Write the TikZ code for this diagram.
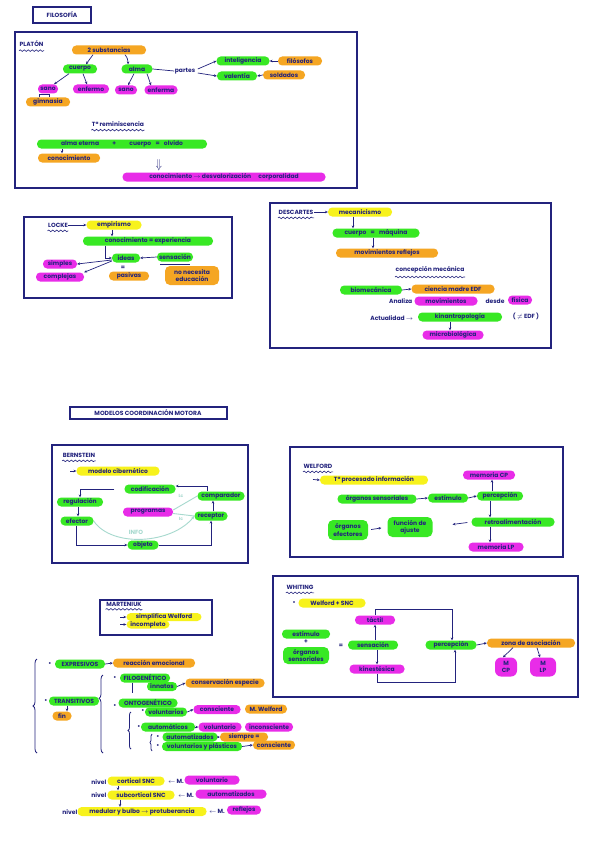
\documentclass[tikz,border=0pt]{standalone}
\usepackage{fontspec}
\setmainfont{Poppins}
\newfontfamily\handfam{Poppins}
\newcommand{\hf}{\handfam\bfseries\fontsize{6}{7.2}\selectfont}
\newcommand{\hft}{\handfam\bfseries\fontsize{6}{7.2}\selectfont}
\usetikzlibrary{arrows.meta,decorations.pathmorphing,decorations.pathreplacing}
\definecolor{ink}{HTML}{23237D}
\definecolor{pgreen}{HTML}{38E824}
\definecolor{porange}{HTML}{F5A623}
\definecolor{ppink}{HTML}{E82CE8}
\definecolor{pyellow}{HTML}{F7F21C}
\definecolor{tealc}{HTML}{A6D9CE}
\tikzset{
 txt/.style={text=ink, font=\hft, inner sep=0.5pt},
 pill/.style={rounded corners=4.2pt, minimum height=9pt, inner sep=0.8pt, text=ink, font=\hf, align=center},
 gp/.style={pill, fill=pgreen},
 op/.style={pill, fill=porange},
 pp/.style={pill, fill=ppink},
 yp/.style={pill, fill=pyellow},
 frame/.style={draw=ink, line width=1.3pt},
 arr/.style={draw=ink, line width=0.7pt, -{Stealth[length=2.8pt,width=2.6pt]}},
 ln/.style={draw=ink, line width=0.7pt},
 wav/.style={draw=ink, line width=0.6pt, decorate, decoration={snake, amplitude=0.8pt, segment length=4pt}},
 tl/.style={draw=tealc, line width=0.9pt},
 brc/.style={draw=ink, line width=0.8pt, decorate},
}
\begin{document}
\begin{tikzpicture}[x=1pt,y=-1pt]
\useasboundingbox[fill=white] (0,0) rectangle (600,848);

% ---------- FILOSOFIA ----------
\draw[frame] (33,7) rectangle (91,23);
\node[txt] (filos) at (62,15) {FILOSOFÍA};

% ---------- PLATON ----------
\draw[frame] (15,32) rectangle (357,188);
\node[txt, anchor=west] (platon) at (19,44) {PLATÓN};
\draw[wav] ([yshift=-3pt]platon.south west) -- ([yshift=-3pt]platon.south east);
\node[op, minimum width=74pt] (subs) at (109,50) {2 substancias};
\node[gp, minimum width=34pt] (cuerpo) at (80,69) {cuerpo};
\node[gp, minimum width=31pt] (alma) at (137,69) {alma};
\node[txt] (partes) at (185,71) {partes};
\node[gp, minimum width=53pt] (intel) at (243,61) {inteligencia};
\node[op, minimum width=44pt] (filo) at (300,61) {filósofos};
\node[gp, minimum width=40pt] (valen) at (237,76) {valentía};
\node[op, minimum width=42pt] (sold) at (284,75) {soldados};
\node[pp, minimum width=20pt] (sanoA) at (48,89) {sano};
\node[pp, minimum width=36pt] (enfA) at (91,89) {enfermo};
\node[pp, minimum width=22pt] (sanoB) at (126,90) {sano};
\node[pp, minimum width=33pt] (enfB) at (161,90) {enferma};
\node[op, minimum width=44pt] (gim) at (48,102) {gimnasia};
\draw[arr] ([xshift=-16pt]subs.south) -- ([xshift=6pt]cuerpo.north);
\draw[arr] ([xshift=16pt]subs.south) to[bend left=20] ([xshift=-9pt]alma.north);
\draw[ln] (alma.east) -- (partes.west);
\draw[arr] ([xshift=2pt,yshift=2pt]partes.east) -- (intel.west);
\draw[arr] ([xshift=2pt,yshift=-2pt]partes.east) -- (valen.west);
\draw[arr] (filo.west) -- (intel.east);
\draw[arr] (sold.west) -- (valen.east);
\draw[arr] ([xshift=-11pt]cuerpo.south) -- ([xshift=6pt]sanoA.north);
\draw[arr] ([xshift=3pt]cuerpo.south) -- ([xshift=-4pt]enfA.north);
\draw[arr] ([xshift=-3pt]alma.south) -- ([xshift=2pt]sanoB.north);
\draw[arr] ([xshift=10pt]alma.south) -- ([xshift=-10pt]enfB.north);
\draw[ln] ([xshift=-9pt]gim.north) -- ++(0,-3) -| ([xshift=1pt]gim.north);

\node[txt] (remi) at (118,124) {Tª reminiscencia};
\draw[wav] ([yshift=-3pt]remi.south west) -- ([yshift=-3pt]remi.south east);
\node[gp, minimum width=170pt] (almaE) at (122,144) {alma eterna \qquad + \qquad cuerpo \enspace = \enspace olvido};
\node[op, minimum width=62pt] (conoA) at (69,158) {conocimiento};
\node[pp, minimum width=203pt] (conoB) at (224,177) {conocimiento $\rightarrow$ desvalorización \quad corporalidad};
\draw[arr] ([xshift=-60pt]almaE.south) -- ([xshift=-7pt]conoA.north);
\node[text=ink, inner sep=0pt] (dn) at (159,165) {\scalebox{1}[1.3]{$\Downarrow$}};

% ---------- LOCKE ----------
\draw[frame] (24,217) rectangle (232,298);
\node[txt] (locke) at (58,225) {LOCKE};
\draw[wav] ([yshift=-3pt]locke.south west) -- ([yshift=-3pt]locke.south east);
\node[yp, minimum width=55pt] (emp) at (114,225) {empirismo};
\node[gp, minimum width=130pt] (conoL) at (148,241) {conocimiento = experiencia};
\node[gp, minimum width=28pt] (ideas) at (126,258) {ideas};
\node[gp, minimum width=36pt] (sens) at (175,257) {sensación};
\node[pp, minimum width=34pt] (simples) at (60,264) {simples};
\node[pp, minimum width=48pt] (compl) at (60,277) {complejas};
\node[txt] (eqL) at (123,267.5) {=};
\node[op, minimum width=40pt] (pasivas) at (129,276) {pasivas};
\node[op, minimum width=54pt, minimum height=19pt, rounded corners=5pt] (noedu) at (192,275.5) {no necesita\\educación};
\draw[arr] (locke.east) -- (emp.west);
\draw[arr] ([xshift=-2pt]emp.south) -- ([xshift=-36pt]conoL.north);
\draw[arr] ([xshift=-43pt]conoL.south) |- (ideas.west);
\draw[arr] (sens.west) -- (ideas.east);
\draw[arr] ([yshift=-2pt]ideas.west) -- (simples.east);
\draw[arr] ([yshift=-3pt]ideas.west) -- (compl.north east);
\draw[ln] ([xshift=-15pt,yshift=-2.5pt]sens.south) -- ([xshift=15pt,yshift=-2.5pt]sens.south);

% ---------- DESCARTES ----------
\draw[frame] (270,203) rectangle (551,348);
\node[txt] (desc) at (296,212) {DESCARTES};
\draw[wav] ([yshift=-3pt]desc.south west) -- ([yshift=-3pt]desc.south east);
\node[yp, minimum width=64pt] (mec) at (360,212) {mecanicismo};
\node[gp, minimum width=87pt] (maq) at (376,233) {cuerpo \; = \; máquina};
\node[op, minimum width=102pt] (refl) at (387,253) {movimientos reflejos};
\node[txt] (concm) at (430,270) {concepción mecánica};
\draw[wav] ([yshift=-3pt]concm.south west) -- ([yshift=-3pt]concm.south east);
\node[gp, minimum width=62pt] (bio) at (371,290) {biomecánica};
\node[op, minimum width=83pt] (cmadre) at (453,289) {ciencia madre EDF};
\node[txt, anchor=east] (analiza) at (413,301) {Analiza};
\node[pp, minimum width=63pt] (movs) at (446,301) {movimientos};
\node[txt] (desde) at (495,301) {desde};
\node[pp, minimum width=24pt] (fis) at (520,300) {física};
\node[txt, anchor=east] (actual) at (414,318) {Actualidad $\rightarrow$};
\node[gp, minimum width=84pt] (kin) at (460,317) {kinantropología};
\node[txt] (neq) at (526,316) {( $\neq$ EDF )};
\node[pp, minimum width=61pt] (micro) at (453,335) {microbiológica};
\draw[arr] (desc.east) -- (mec.west);
\draw[arr] ([xshift=-7pt]mec.south) -- ([xshift=-23pt]maq.north);
\draw[arr] ([xshift=-3pt]maq.south) -- ([xshift=-14pt]refl.north);
\draw[arr] (bio.east) -- (cmadre.west);
\draw[arr] ([xshift=-10pt]kin.south) -- ([xshift=-3pt]micro.north);

% ---------- MODELOS ----------
\draw[frame] (70,407) rectangle (227,419);
\node[txt] (modelos) at (148,413) {MODELOS COORDINACIÓN MOTORA};

% ---------- BERNSTEIN ----------
\draw[frame] (52,445) rectangle (248,563);
\node[txt] (bern) at (79,455) {BERNSTEIN};
\draw[wav] ([yshift=-3pt]bern.south west) -- ([yshift=-3pt]bern.south east);
\coordinate (bA) at (70,471);
\node[yp, minimum width=83pt] (modcib) at (118,471) {modelo cibernético};
\node[gp, minimum width=51pt] (codif) at (150,489) {codificación};
\node[gp, minimum width=47pt] (compa) at (221,496) {comparador};
\node[gp, minimum width=46pt] (regul) at (80,502) {regulación};
\node[pp, minimum width=50pt] (prog) at (148,512) {programas};
\node[gp, minimum width=33pt] (efec) at (77,521) {efector};
\node[gp, minimum width=33pt] (recep) at (211,516) {receptor};
\node[gp, minimum width=31pt] (obj) at (143,545) {objeto};
\draw[arr] (bA) -- (modcib.west);
\draw[arr] ([xshift=-10pt]codif.west) -| (regul.north);
\draw[arr] ([xshift=-2pt]regul.south) -- ([xshift=1pt]efec.north);
\draw[arr] ([xshift=-1pt]efec.south) |- (obj.west);
\draw[arr] (obj.east) -| (recep.south);
\draw[arr] ([xshift=2pt]recep.north) -- ([xshift=-8pt]compa.south);
\draw[arr] ([xshift=-14pt]compa.north) |- ([yshift=3pt]codif.east);
\draw[tl, -{Stealth[length=3pt,width=2.8pt]}] (efec.east) .. controls (112,548) and (172,544) .. (recep.west);
\node[text=tealc, font=\hf] (info) at (136,532) {INFO};
\draw[tl] (compa.west) -- ([yshift=2pt]prog.east);
\draw[tl] (recep.west) -- ([yshift=-1.5pt]prog.east);
\node[text=tealc, font=\handfam\bfseries\fontsize{4.5}{5}\selectfont] (lc) at (181,496) {Lc};
\node[text=tealc, font=\handfam\bfseries\fontsize{4.5}{5}\selectfont] (ic) at (181,519) {Ic};

% ---------- WELFORD ----------
\draw[frame] (290,447) rectangle (563,557);
\node[txt] (welf) at (318,466) {WELFORD};
\draw[wav] ([yshift=-3pt]welf.south west) -- ([yshift=-3pt]welf.south east);
\coordinate (wA) at (313,479.5);
\node[yp, minimum width=108pt] (proc) at (374,480) {Tª procesado información};
\node[pp, minimum width=52pt] (mcp) at (489,475) {memoria CP};
\node[gp, minimum width=79pt] (orgs) at (377,499) {órganos sensoriales};
\node[gp, minimum width=40pt] (estim) at (448,498) {estímulo};
\node[gp, minimum width=46pt] (perc) at (500,496) {percepción};
\node[gp, minimum width=83pt] (retro) at (513,522) {retroalimentación};
\node[gp, minimum width=45pt, minimum height=20pt, rounded corners=5pt] (ajuste) at (410,527) {función de\\ajuste};
\node[gp, minimum width=40pt, minimum height=20pt, rounded corners=5pt] (efect) at (348,530) {órganos\\efectores};
\node[pp, minimum width=55pt] (mlp) at (496,547) {memoria LP};
\draw[arr] (wA) -- (proc.west);
\draw[arr] (orgs.east) -- (estim.west);
\draw[arr] (estim.east) -- (perc.west);
\draw[arr] ([xshift=-8pt]perc.north) -- ([xshift=3pt]mcp.south);
\draw[arr] ([xshift=-10pt]perc.south) -- ([xshift=-23pt]retro.north);
\draw[arr, shorten <=4pt, shorten >=20pt] (retro.west) -- (ajuste.east);
\draw[arr, shorten <=3pt, shorten >=6pt] (efect.east) -- (ajuste.west);
\draw[arr] ([xshift=-23pt]retro.south) -- ([xshift=-6pt]mlp.north);

% ---------- MARTENIUK ----------
\draw[frame] (100,600) rectangle (212,635);
\node[txt] (mart) at (124,604) {MARTENIUK};
\draw[wav] ([yshift=-2.5pt]mart.south west) -- ([yshift=-2.5pt]mart.south east);
\coordinate (mA) at (120,617);
\coordinate (mB) at (120,624.5);
\node[yp, minimum width=75pt, minimum height=8pt] (simpl) at (164,617) {simplifica Welford};
\node[yp, minimum width=43pt, minimum height=8pt] (incomp) at (148,624.5) {incompleto};
\draw[arr] (mA) -- (simpl.west);
\draw[arr] (mB) -- (incomp.west);

% ---------- WHITING ----------
\draw[frame] (273,576) rectangle (578,697);
\node[txt] (whit) at (300,587) {WHITING};
\draw[wav] ([yshift=-3pt]whit.south west) -- ([yshift=-3pt]whit.south east);
\node[txt] (wbul) at (294,603) {•};
\node[yp, minimum width=67pt] (wsnc) at (332,603) {Welford + SNC};
\node[pp, minimum width=40pt] (tact) at (375,620) {táctil};
\node[gp, minimum width=48pt] (estW) at (306,634) {estímulo};
\node[txt] (plusW) at (306,642) {+};
\node[gp, minimum width=46pt, minimum height=17pt, rounded corners=5pt] (orgW) at (306,655.5) {órganos\\sensoriales};
\node[txt] (eqW) at (341,646) {=};
\node[gp, minimum width=50pt] (sensW) at (373,645) {sensación};
\node[pp, minimum width=55pt] (kines) at (377,669) {kinestésica};
\node[gp, minimum width=51pt] (percW) at (451,645) {percepción};
\node[op, minimum width=88pt] (zona) at (531,643) {zona de asociación};
\node[pp, minimum width=22pt, minimum height=19pt, rounded corners=6pt] (wmcp) at (506,667) {M\\CP};
\node[pp, minimum width=26pt, minimum height=19pt, rounded corners=6pt] (wmlp) at (543,667) {M\\LP};
\draw[arr] ([xshift=2pt]sensW.north) -- (tact.south);
\draw[arr] ([xshift=4pt]sensW.south) -- (kines.north);
\draw[arr] (tact.north) -- ++(0,-6) -| ([xshift=1pt]percW.north);
\draw[arr] (kines.south) -- ++(0,9) -| ([xshift=4pt]percW.south);
\draw[arr] (percW.east) -- (zona.west);
\draw[arr] ([xshift=-18pt]zona.south) -- ([xshift=-3pt]wmcp.north);
\draw[arr] ([xshift=6pt]zona.south) -- ([xshift=-3pt]wmlp.north);

% ---------- MOVIMIENTOS ----------
\draw[brc, decoration={brace, amplitude=4pt}] (37,753) -- (37,659);
\draw[brc, decoration={brace, amplitude=4pt, aspect=0.7}] (103,753) -- (103,675);
\draw[brc, decoration={brace, amplitude=3pt}] (131,749) -- (131,712);
\draw[brc, decoration={brace, amplitude=2pt}] (152,751) -- (152,734);
\node[txt] (b1) at (50,664) {•};
\node[gp, minimum width=50pt] (expr) at (80,664) {EXPRESIVOS};
\node[op, minimum width=82pt] (react) at (154,663) {reacción emocional};
\node[txt] (b2) at (46,701) {•};
\node[gp, minimum width=50pt] (trans) at (74,701) {TRANSITIVOS};
\node[op, minimum width=19pt] (fin) at (62,716) {fin};
\node[txt] (b3) at (115,678) {•};
\node[gp, minimum width=50pt] (filog) at (145,678) {FILOGENÉTICO};
\node[gp, minimum width=30pt] (innat) at (162,686.5) {innatos};
\node[op, minimum width=79pt] (conse) at (225,683) {conservación especie};
\node[txt] (b4) at (115,706) {•};
\node[gp, minimum width=59pt] (ontog) at (148,703) {ONTOGENÉTICO};
\node[txt] (b5) at (143,711) {•};
\node[gp, minimum width=42pt] (volun) at (166,712) {voluntarios};
\node[pp, minimum width=47pt] (consA) at (217,709.5) {consciente};
\node[op, minimum width=42pt] (mwel) at (266,709) {M. Welford};
\node[txt] (b6) at (139,727) {•};
\node[gp, minimum width=54pt] (autom) at (168,727) {automáticos};
\node[pp, minimum width=43pt] (volB) at (220,727) {voluntario};
\node[pp, minimum width=48pt] (incon) at (269,727) {inconsciente};
\node[txt] (b7) at (158,737) {•};
\node[gp, minimum width=55pt] (autz) at (190,737) {automatizados};
\node[op, minimum width=48pt] (siem) at (244,737) {siempre =};
\node[txt] (b8) at (158,746.5) {•};
\node[gp, minimum width=80pt] (vyp) at (202,746.5) {voluntarios y plásticos};
\node[op, minimum width=42pt] (consB) at (274,745) {consciente};
\draw[arr] (expr.east) -- (react.west);
\draw[arr] ([xshift=-7pt]trans.south) -- ([xshift=5pt]fin.north);
\draw[ln] ([xshift=-13pt]filog.south) -- ++(0,10);
\draw[arr] (innat.east) -- (conse.west);
\draw[arr] (volun.east) -- (consA.west);
\draw[arr] (autom.east) -- (volB.west);
\draw[arr] (autz.east) -- (siem.west);
\draw[arr] (vyp.east) -- (consB.west);

% ---------- NIVELES ----------
\node[txt, anchor=east] (nivA) at (107,782) {nivel};
\node[yp, minimum width=57pt] (cort) at (136,781) {cortical SNC};
\node[txt] (laA) at (176,781) {$\leftarrow$ M.};
\node[pp, minimum width=55pt] (mvol) at (212,780) {voluntario};
\node[txt, anchor=east] (nivB) at (107,795) {nivel};
\node[yp, minimum width=67pt] (subc) at (141,795) {subcortical SNC};
\node[txt] (laB) at (186,795) {$\leftarrow$ M.};
\node[pp, minimum width=71pt] (mauto) at (231,794) {automatizados};
\node[txt, anchor=east] (nivC) at (78,812) {nivel};
\node[yp, minimum width=129pt] (medu) at (142,811.5) {medular y bulbo $\rightarrow$ protuberancia};
\node[txt] (laC) at (217,811) {$\leftarrow$ M.};
\node[pp, minimum width=34pt] (mrefl) at (244,810) {reflejos};
\draw[arr] ([xshift=-18pt]cort.south) -- ([xshift=-23pt]subc.north);
\draw[arr] ([xshift=-21pt]subc.south) -- ([xshift=-22pt]medu.north);
\end{tikzpicture}
\end{document}
